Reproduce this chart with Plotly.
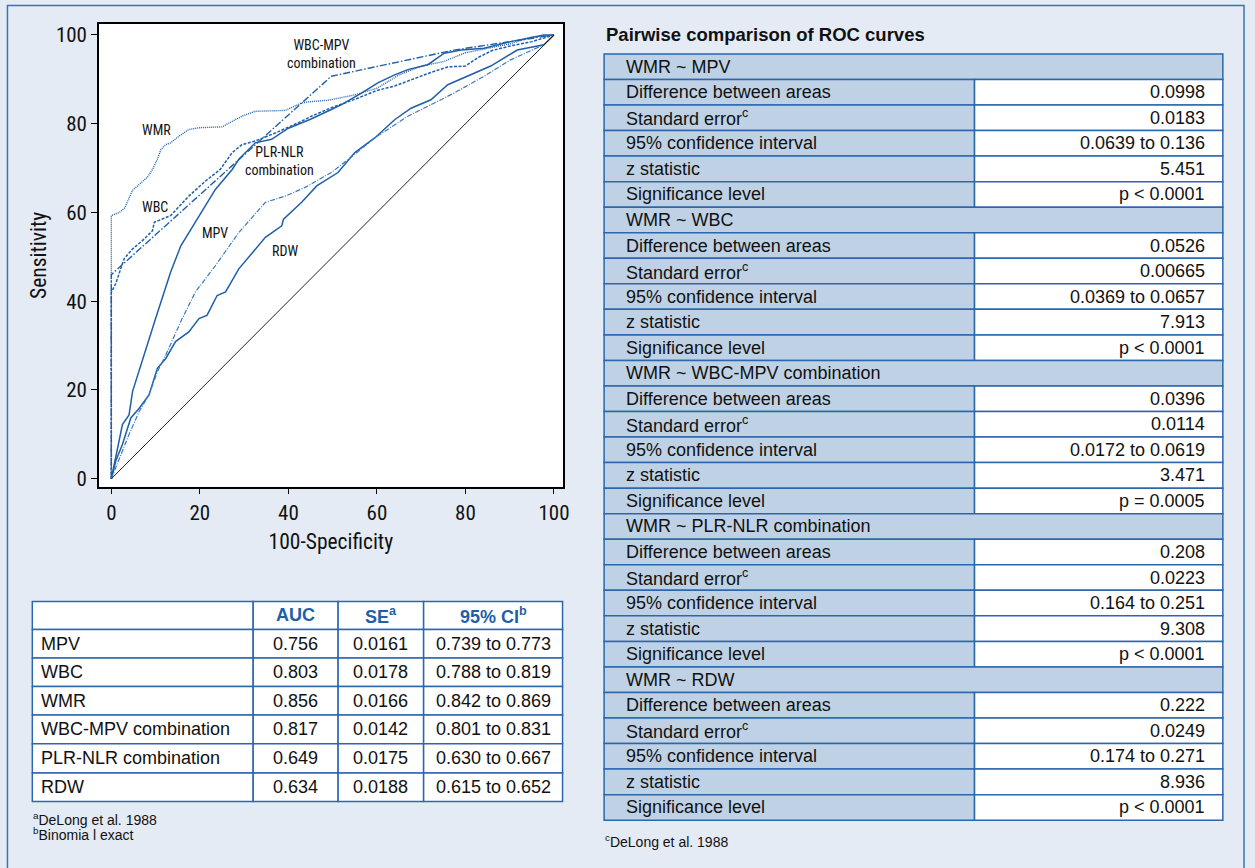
import plotly.graph_objects as go

W, H = 1255, 868

# ---------------- ROC curve data (100-Specificity, Sensitivity) ----------------
mpv_x = [0, 2.5, 4, 4.8, 10, 13.4, 15.7, 19.8, 23.5, 27.3, 28.8, 32.5, 36.2, 40, 45, 49.7, 52, 56.5, 60.2, 64, 67, 71.5, 75.2, 79, 84.2, 90.2, 97.7, 100]
mpv_y = [0, 12.2, 14.4, 19.7, 36.1, 46.6, 52.5, 59.3, 65.2, 69.7, 72, 75.7, 76.5, 79, 81, 83.2, 84.3, 86.9, 89.2, 91, 92.2, 93.3, 95.9, 96.6, 97, 98.5, 100, 100]

wbc_x = [0, 0, 1, 2.9, 4.8, 7.4, 9.3, 9.7, 13.4, 15.7, 17.5, 21.3, 24.6, 27.3, 29.5, 32.5, 37, 42.2, 45.2, 49.7, 55, 60, 64, 68, 72, 76, 80, 83, 86, 90, 95, 100]
wbc_y = [0, 42, 44, 49.6, 51.8, 54, 55.9, 57.8, 59.3, 61.9, 63.7, 67.1, 69.7, 73.5, 75.3, 76.1, 77.9, 80.2, 81.7, 83.6, 85.5, 87.5, 88.5, 90, 91.5, 92.8, 93, 95, 96.5, 97.5, 98.5, 100]

wmr_x = [0, 0, 1.8, 3, 4.8, 6.7, 8.2, 9.3, 10.4, 11.2, 12.3, 13.4, 15.3, 17.5, 19.8, 25, 27.3, 29.5, 32.5, 39.3, 43, 45.2, 49, 51.2, 55, 60, 65, 70, 75, 80, 85, 90, 95, 100]
wmr_y = [0, 59.3, 60, 61, 65, 66.7, 68, 69.7, 72, 74.2, 75.3, 75.7, 77.2, 78.7, 79.1, 79.3, 80.6, 81.7, 82.8, 83, 84.7, 85, 85.3, 85.8, 86.5, 88, 91, 93, 94, 96, 97, 98, 99.5, 100]

wbcmpv_x = [0, 0, 49.7, 77.4, 100]
wbcmpv_y = [0, 46, 90.7, 96.6, 100]

plr_x = [0, 2, 4, 6.3, 8.5, 10.4, 12.3, 16, 19, 23.5, 28.8, 34.8, 39.3, 43.7, 49.7, 55, 59.5, 67, 71.5, 77.4, 84.2, 90.2, 97.7, 100]
plr_y = [0, 5, 10, 15.2, 18.9, 24.1, 27.9, 36.1, 42.1, 48, 55.5, 62.3, 63.7, 65.6, 69, 73.1, 76.8, 81.7, 83.9, 86.9, 90.7, 94.4, 97.8, 100]

rdw_x = [0, 1, 2.5, 4.4, 6.3, 8.5, 10.4, 12.3, 14.5, 17.5, 19.8, 21.6, 23.9, 25.8, 28.8, 31.4, 34.8, 38.5, 38.9, 43, 46.4, 51.2, 55, 59.5, 64, 67.7, 72.2, 76, 80.4, 85.7, 91.7, 97.7, 100]
rdw_y = [0, 4, 7.7, 13.7, 15.9, 18.9, 24.9, 27.1, 30.9, 33.1, 36.1, 36.8, 41.3, 42.1, 47.3, 50.3, 54.4, 57, 58.5, 62.3, 66, 69, 73.5, 76.8, 80.9, 83.5, 85.4, 88.8, 90.7, 93, 96.6, 97.8, 100]

diag_x = [0, 100]
diag_y = [0, 100]

x_ticks = [0, 20, 40, 60, 80, 100]
y_ticks = [0, 20, 40, 60, 80, 100]

# ---------------- table data ----------------
auc_cols = ["AUC", "SE<sup>a</sup>", "95% CI<sup>b</sup>"]
auc_rows = ["MPV", "WBC", "WMR", "WBC-MPV combination", "PLR-NLR combination", "RDW"]
auc_vals = ["0.756", "0.803", "0.856", "0.817", "0.649", "0.634"]
auc_se = ["0.0161", "0.0178", "0.0166", "0.0142", "0.0175", "0.0188"]
auc_ci = ["0.739 to 0.773", "0.788 to 0.819", "0.842 to 0.869", "0.801 to 0.831", "0.630 to 0.667", "0.615 to 0.652"]
auc_notes = ["<sup>a</sup>DeLong et al. 1988", "<sup>b</sup>Binomia l exact"]

pw_title = "Pairwise comparison of ROC curves"
pw_groups = ["WMR ~ MPV", "WMR ~ WBC", "WMR ~ WBC-MPV combination", "WMR ~ PLR-NLR combination", "WMR ~ RDW"]
pw_labels = ["Difference between areas", "Standard error<sup>c</sup>", "95% confidence interval", "z statistic", "Significance level"]
pw_diff = ["0.0998", "0.0526", "0.0396", "0.208", "0.222"]
pw_se = ["0.0183", "0.00665", "0.0114", "0.0223", "0.0249"]
pw_ci = ["0.0639 to 0.136", "0.0369 to 0.0657", "0.0172 to 0.0619", "0.164 to 0.251", "0.174 to 0.271"]
pw_z = ["5.451", "7.913", "3.471", "9.308", "8.936"]
pw_p = ["p < 0.0001", "p < 0.0001", "p = 0.0005", "p < 0.0001", "p < 0.0001"]
pw_note = "<sup>c</sup>DeLong et al. 1988"

# ---------------- style ----------------
BG = "#e4ebf4"
BLUE = "#1f5fa9"
LINE_BLUE = "#2c67ae"
CELL_BLUE = "#bfd2e5"
NARROW = "Liberation Sans Narrow, Roboto Condensed, DejaVu Sans Condensed, Arial Narrow, sans-serif"
SANS = "Liberation Sans, Arial, Helvetica, sans-serif"
TXT = "#111111"
TS = 18  # table font size


def px(x):
    return x / W


def py(y):
    return 1 - y / H


fig = go.Figure()

curves = [
    ("MPV", mpv_x, mpv_y, "solid", 1.5, BLUE),
    ("RDW", rdw_x, rdw_y, "solid", 1.5, BLUE),
    ("WBC", wbc_x, wbc_y, "3px,1.5px", 1.5, BLUE),
    ("WMR", wmr_x, wmr_y, "1px,1px", 1.4, BLUE),
    ("WBC-MPV combination", wbcmpv_x, wbcmpv_y, "7px,2px,1.5px,2px", 1.4, BLUE),
    ("PLR-NLR combination", plr_x, plr_y, "5px,1.5px,1px,1.5px", 1.2, "#3a78bf"),
]
for name, xs, ys, dash, w, c in curves:
    fig.add_trace(go.Scatter(x=xs, y=ys, mode="lines", name=name,
                             line=dict(color=c, width=w, dash=dash)))
fig.add_trace(go.Scatter(x=diag_x, y=diag_y, mode="lines", name="reference",
                         line=dict(color="#222222", width=1)))

# curve labels
curve_labels = [
    ("WBC-MPV<br>combination", 47.4, 95.7),
    ("WMR", 10.1, 78.5),
    ("WBC", 9.9, 61.2),
    ("MPV", 23.4, 55.4),
    ("PLR-NLR<br>combination", 38.0, 71.5),
    ("RDW", 39.3, 51.3),
]
for t, x, y in curve_labels:
    fig.add_annotation(x=x, y=y, xref="x", yref="y", text=t, showarrow=False,
                       xanchor="center", yanchor="middle",
                       font=dict(family=NARROW, size=14, color=TXT))


def note(x, y, text, anchor="left", size=TS, color=TXT, bold=False):
    fig.add_annotation(x=px(x), y=py(y), xref="paper", yref="paper",
                       text=("<b>" + text + "</b>") if bold else text,
                       showarrow=False, xanchor=anchor, yanchor="middle",
                       font=dict(family=SANS, size=size, color=color))


shapes = []


def cell(x0, x1, y0, y1, fill):
    shapes.append(dict(type="rect", xref="paper", yref="paper",
                       x0=px(x0), x1=px(x1), y0=py(y1), y1=py(y0),
                       fillcolor=fill, line=dict(color=LINE_BLUE, width=1.5), layer="below"))


# ---------------- left table (AUC) ----------------
col_edges = [32.5, 254.6, 340, 426, 565.7]
row_edges = [604.3, 632.3, 661, 689.7, 718.3, 747.3, 776.7, 805.3]
for r in range(len(row_edges) - 1):
    for c in range(len(col_edges) - 1):
        cell(col_edges[c], col_edges[c + 1], row_edges[r], row_edges[r + 1], "white")
for c, t in enumerate(auc_cols):
    note((col_edges[c + 1] + col_edges[c + 2]) / 2, (row_edges[0] + row_edges[1]) / 2, t,
         anchor="center", color=BLUE, bold=True)
for r, lab in enumerate(auc_rows):
    yc = (row_edges[r + 1] + row_edges[r + 2]) / 2
    note(39.6, yc, lab)
    for c, vals in enumerate([auc_vals, auc_se, auc_ci]):
        note((col_edges[c + 1] + col_edges[c + 2]) / 2, yc, vals[r], anchor="center")
for i, t in enumerate(auc_notes):
    note(31, 822.7 + 15.5 * i, t, size=14)

# ---------------- right table (pairwise) ----------------
rx0, rxm, rx1 = 607.5, 980, 1229.7
top, rh = 54.2, 25.66
note(607, 35, pw_title, size=18.5, bold=True)
row = 0
for g, grp in enumerate(pw_groups):
    y0 = top + row * rh
    cell(rx0, rx1, y0, y0 + rh, CELL_BLUE)
    note(628, y0 + rh / 2, grp)
    row += 1
    vals = [pw_diff[g], pw_se[g], pw_ci[g], pw_z[g], pw_p[g]]
    for k, lab in enumerate(pw_labels):
        y0 = top + row * rh
        cell(rx0, rxm, y0, y0 + rh, CELL_BLUE)
        cell(rxm, rx1, y0, y0 + rh, "white")
        note(628, y0 + rh / 2, lab)
        note(1214, y0 + rh / 2, vals[k], anchor="right")
        row += 1
note(606, 845, pw_note, size=14)

# outer frame
shapes.append(dict(type="rect", xref="paper", yref="paper", x0=px(7.5), x1=px(1251), y0=py(900), y1=py(5.5),
                   line=dict(color="#3a72b8", width=1.5), fillcolor="rgba(0,0,0,0)", layer="below"))

fig.update_layout(
    width=W, height=H,
    margin=dict(l=0, r=0, t=0, b=0),
    paper_bgcolor=BG, plot_bgcolor="white",
    showlegend=False,
    shapes=shapes,
    xaxis=dict(domain=[px(99.5), px(566)], range=[-2.8, 102], tickvals=x_ticks,
               showline=True, mirror=True, linecolor="black", linewidth=1.5,
               ticks="outside", ticklen=6, tickcolor="black", showgrid=False, zeroline=False,
               tickfont=dict(family=NARROW, size=21, color=TXT),
               title=dict(text="100-Specificity", standoff=10,
                          font=dict(family=NARROW, size=21.5, color=TXT))),
    yaxis=dict(domain=[py(489), py(24)], range=[-1.8, 102.5], tickvals=y_ticks,
               showline=True, mirror=True, linecolor="black", linewidth=1.5,
               ticks="outside", ticklen=6, tickcolor="black", showgrid=False, zeroline=False,
               tickfont=dict(family=NARROW, size=21, color=TXT),
               title=dict(text="Sensitivity", standoff=3,
                          font=dict(family=NARROW, size=21.5, color=TXT))),
)

# remove the browser's default 8px page margin so the figure fills the window exactly
fig.write_html("out.html", config={"displayModeBar": False},
               post_script="document.body.style.margin='0px';")
